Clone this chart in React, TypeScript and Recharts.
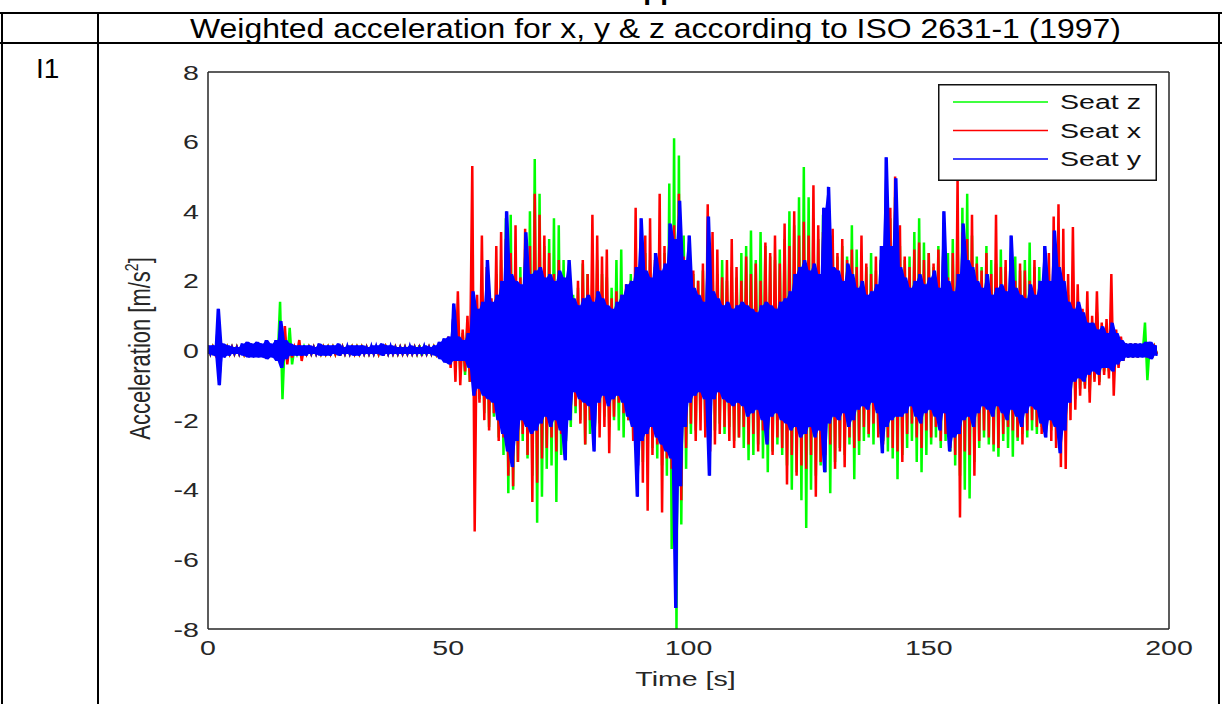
import React from 'react';
import { ComposedChart, Line, Area, XAxis, YAxis, Legend } from 'recharts';

// envelope of the weighted signals, one max/min pair per second (t = 0..197 s)
const BIN = 1;
const xTicks = [0, 50, 100, 150, 200];
const yTicks = [-8, -6, -4, -2, 0, 2, 4, 6, 8];
const legendOrder = ['Seat z', 'Seat x', 'Seat y'];

const seatZMax = [
  0.1, 0.1, 0.3, 0.1, 0.1, 0.1, 0.1, 0.1, 0.15, 0.1,
  0.15, 0.1, 0.2, 0.15, 0.25, 1.4, 0.4, 0.65, 0.1, 0.15,
  0.1, 0.1, 0.1, 0.1, 0.1, 0.1, 0.1, 0.15, 0.1, 0.1,
  0.1, 0.1, 0.1, 0.1, 0.1, 0.1, 0.15, 0.1, 0.1, 0.1,
  0.1, 0.1, 0.1, 0.1, 0.15, 0.1, 0.1, 0.1, 0.15, 0.25,
  0.3, 0.5, 0.9, 0.5, 0.8, 1.8, 1.1, 1.4, 1.6, 1.4,
  2.2, 2.6, 3.8, 3.9, 2.6, 2.4, 2.9, 4.0, 5.5, 4.5,
  3.0, 3.2, 3.8, 3.6, 2.6, 2.0, 1.6, 1.8, 2.5, 2.2,
  2.3, 2.6, 2.2, 2.1, 1.8, 2.6, 2.9, 1.7, 2.2, 2.7,
  2.6, 2.8, 2.6, 2.4, 3.0, 2.8, 4.8, 6.1, 5.6, 3.3,
  2.5, 2.2, 2.0, 2.3, 3.0, 2.5, 2.2, 2.6, 2.0, 2.4,
  2.1, 2.8, 3.0, 3.45, 2.6, 3.4, 3.0, 2.7, 2.6, 2.9,
  3.2, 4.0, 3.6, 4.4, 5.27, 4.4, 3.8, 3.2, 3.9, 3.0,
  3.3, 2.7, 3.0, 2.7, 3.6, 2.9, 2.6, 2.4, 2.8, 2.3,
  2.5, 3.1, 3.8, 4.4, 3.0, 2.6, 2.7, 3.4, 3.8, 3.1,
  2.8, 2.4, 3.0, 2.6, 2.8, 3.2, 3.5, 4.1, 4.5, 3.3,
  2.7, 2.4, 3.0, 2.6, 2.5, 2.9, 2.4, 2.6, 2.7, 2.3,
  2.6, 3.1, 2.4, 2.4, 2.0, 2.2, 2.4, 2.7, 2.4, 1.6,
  1.9, 1.3, 1.0, 1.2, 0.8, 1.1, 0.6, 0.6, 0.7, 0.4,
  0.3, 0.2, 0.2, 0.2, 0.15, 0.8, 0.2, 0.1,
];
const seatZMin = [
  -0.1, -0.1, -0.3, -0.1, -0.1, -0.1, -0.1, -0.1, -0.15, -0.1,
  -0.15, -0.1, -0.2, -0.15, -0.25, -1.4, -0.3, -0.4, -0.1, -0.15,
  -0.1, -0.1, -0.1, -0.1, -0.1, -0.1, -0.1, -0.15, -0.1, -0.1,
  -0.1, -0.1, -0.1, -0.1, -0.1, -0.1, -0.15, -0.1, -0.1, -0.1,
  -0.1, -0.1, -0.1, -0.1, -0.15, -0.1, -0.1, -0.1, -0.15, -0.25,
  -0.3, -0.4, -0.6, -0.7, -0.9, -1.6, -1.4, -1.8, -2.2, -1.9,
  -2.5, -3.0, -4.1, -4.0, -3.2, -2.6, -3.1, -3.6, -4.95, -4.2,
  -3.4, -3.3, -4.35, -3.0, -2.6, -2.2, -1.8, -2.0, -2.7, -2.4,
  -2.2, -2.1, -1.9, -2.2, -2.0, -2.3, -2.5, -2.0, -2.6, -3.0,
  -3.2, -3.0, -2.8, -3.1, -3.3, -3.6, -5.7, -8.0, -5.0, -3.4,
  -2.4, -2.3, -2.0, -2.2, -2.5, -2.3, -2.1, -2.4, -2.2, -2.6,
  -2.5, -2.8, -3.15, -3.0, -2.7, -3.1, -3.5, -2.9, -2.7, -3.0,
  -3.3, -4.0, -3.5, -4.3, -5.1, -4.0, -3.6, -3.3, -3.5, -4.1,
  -3.2, -2.8, -3.0, -2.7, -3.7, -3.0, -2.6, -2.5, -2.7, -2.4,
  -2.6, -2.9, -3.1, -3.7, -3.0, -2.8, -2.6, -3.2, -3.5, -3.0,
  -2.7, -2.5, -2.8, -2.6, -2.9, -3.3, -3.6, -4.0, -4.25, -3.2,
  -2.8, -2.5, -2.7, -2.9, -3.05, -2.6, -2.8, -3.05, -2.6, -2.4,
  -2.5, -2.3, -2.4, -2.2, -2.0, -2.3, -2.1, -2.4, -2.2, -1.5,
  -1.4, -1.1, -1.0, -1.2, -0.8, -0.9, -0.6, -0.6, -0.7, -0.4,
  -0.3, -0.2, -0.2, -0.2, -0.15, -0.85, -0.2, -0.1,
];

const seatXMax = [
  0.1, 0.1, 0.2, 0.1, 0.1, 0.1, 0.1, 0.1, 0.15, 0.1,
  0.15, 0.1, 0.2, 0.15, 0.2, 0.4, 0.7, 0.2, 0.1, 0.3,
  0.1, 0.1, 0.1, 0.1, 0.1, 0.1, 0.1, 0.15, 0.1, 0.1,
  0.1, 0.1, 0.1, 0.1, 0.1, 0.1, 0.15, 0.1, 0.1, 0.1,
  0.1, 0.1, 0.1, 0.1, 0.1, 0.1, 0.1, 0.1, 0.15, 0.3,
  0.4, 0.9, 1.7, 0.6, 1.0, 5.3, 1.6, 3.3, 2.4, 1.5,
  3.0, 3.4, 3.2, 2.8, 3.6, 2.1, 3.5, 3.0, 4.5, 3.9,
  3.3, 2.8, 2.2, 2.6, 1.9, 1.8, 1.4, 2.0, 2.6, 2.2,
  3.9, 3.3, 2.7, 2.9, 1.5, 1.7, 1.6, 1.9, 2.0, 4.1,
  2.8, 3.3, 3.8, 2.6, 4.5, 3.0, 2.8, 3.6, 4.5, 2.7,
  2.0, 2.3, 2.0, 2.5, 4.2, 3.4, 2.9, 2.1, 2.6, 3.2,
  2.4, 2.0, 2.7, 2.2, 2.5, 2.0, 3.1, 2.8, 3.3, 2.5,
  3.65, 3.0, 4.0, 3.3, 3.7, 3.3, 4.75, 3.6, 3.4, 3.1,
  3.5, 2.8, 3.2, 2.6, 2.9, 2.4, 3.3, 2.5, 2.2, 2.7,
  2.6, 3.0, 4.1, 5.0, 3.6, 2.7, 2.4, 2.9, 3.1, 2.6,
  2.8, 2.5, 2.9, 2.7, 2.1, 2.8, 5.0, 3.4, 3.2, 3.9,
  2.5, 2.3, 2.8, 2.2, 3.9, 2.4, 2.6, 2.3, 2.0, 2.5,
  2.3, 2.0, 2.6, 1.9, 2.2, 2.8, 3.85, 4.2, 3.5, 2.2,
  3.55, 1.9, 1.2, 1.7, 1.0, 1.7, 0.8, 0.9, 2.2, 0.6,
  0.4, 0.2, 0.2, 0.2, 0.15, 0.2, 0.2, 0.1,
];
const seatXMin = [
  -0.1, -0.1, -0.2, -0.1, -0.1, -0.1, -0.1, -0.1, -0.15, -0.1,
  -0.15, -0.1, -0.2, -0.15, -0.2, -0.3, -0.4, -0.2, -0.1, -0.3,
  -0.1, -0.1, -0.1, -0.1, -0.1, -0.1, -0.1, -0.15, -0.1, -0.1,
  -0.1, -0.1, -0.1, -0.1, -0.1, -0.1, -0.15, -0.1, -0.1, -0.1,
  -0.1, -0.1, -0.1, -0.1, -0.1, -0.1, -0.1, -0.1, -0.15, -0.3,
  -0.5, -0.9, -1.0, -0.6, -0.9, -5.2, -1.5, -2.0, -2.3, -1.8,
  -2.6, -2.5, -3.6, -3.9, -3.2, -2.4, -3.0, -4.35, -3.8, -3.1,
  -2.8, -2.5, -2.9, -2.4, -2.2, -1.8, -1.6, -2.1, -2.7, -2.0,
  -2.3, -2.5, -2.2, -2.95, -1.9, -1.5, -1.8, -2.0, -2.6, -3.3,
  -3.8, -4.6, -3.0, -2.7, -4.65, -3.1, -3.4, -3.6, -4.3, -2.8,
  -2.1, -2.6, -2.3, -2.5, -2.9, -2.7, -2.4, -2.2, -2.6, -2.8,
  -2.5, -2.2, -2.7, -2.4, -2.9, -2.3, -2.6, -3.0, -2.5, -2.8,
  -3.85, -3.0, -3.6, -3.3, -3.4, -3.0, -4.2, -3.2, -3.0, -2.7,
  -3.4, -2.9, -3.35, -2.5, -2.8, -2.6, -2.2, -2.4, -2.1, -2.5,
  -2.7, -2.5, -2.8, -2.9, -3.2, -2.4, -2.1, -2.5, -2.8, -2.3,
  -2.5, -2.2, -2.6, -2.4, -2.8, -3.0, -4.8, -2.9, -3.0, -3.6,
  -2.6, -2.3, -2.5, -2.7, -2.8, -2.4, -2.2, -2.3, -2.5, -2.7,
  -2.3, -2.0, -2.2, -2.4, -2.1, -2.6, -2.8, -3.35, -3.4, -2.0,
  -1.7, -1.3, -1.1, -1.5, -0.9, -1.0, -0.7, -0.8, -1.3, -0.5,
  -0.3, -0.2, -0.2, -0.2, -0.15, -0.2, -0.2, -0.1,
];

const seatYMax = [
  0.15, 0.15, 1.2, 0.2, 0.15, 0.1, 0.1, 0.2, 0.25, 0.2,
  0.25, 0.2, 0.3, 0.2, 0.3, 0.85, 0.3, 0.2, 0.15, 0.15,
  0.15, 0.15, 0.1, 0.2, 0.15, 0.15, 0.15, 0.2, 0.1, 0.15,
  0.15, 0.15, 0.15, 0.1, 0.15, 0.15, 0.2, 0.15, 0.15, 0.1,
  0.1, 0.1, 0.15, 0.1, 0.1, 0.15, 0.1, 0.15, 0.25, 0.35,
  0.4, 1.35, 0.4, 0.3, 0.5, 1.7, 1.2, 1.4, 2.6, 1.4,
  1.6, 2.0, 4.0, 2.2, 2.0, 1.9, 3.4, 2.2, 2.3, 2.4,
  2.1, 2.2, 2.0, 2.3, 2.1, 2.6, 1.5, 1.3, 1.5, 1.6,
  1.4, 1.7, 1.5, 1.3, 1.2, 1.4, 1.6, 1.9, 2.0, 2.4,
  3.8, 2.3, 2.1, 2.8, 2.3, 2.5, 3.65, 3.2, 4.3, 2.6,
  3.3, 1.8, 1.6, 1.4, 3.85, 1.7, 1.5, 1.3, 1.4, 1.2,
  1.3, 1.4, 1.3, 1.2, 1.1, 1.3, 1.4, 1.3, 1.2, 1.4,
  1.5, 1.7, 2.2, 2.4, 2.6, 2.3, 2.5, 2.2, 4.1, 4.7,
  2.4, 2.3, 2.0, 2.5, 2.2, 1.8, 2.0, 1.6, 1.7, 1.9,
  3.0, 5.55, 3.0, 4.95, 2.4, 2.1, 1.8, 2.0, 2.2, 1.9,
  2.1, 2.3, 1.8, 4.0, 2.0, 1.7, 2.2, 3.65, 2.6, 2.4,
  2.0, 1.8, 2.2, 1.6, 1.8, 1.9, 1.7, 3.3, 1.8, 1.6,
  1.5, 1.9, 1.6, 2.0, 3.0, 2.0, 3.45, 2.4, 2.0, 1.4,
  1.2, 1.4, 1.1, 0.8, 0.8, 0.6, 0.7, 0.5, 0.8, 0.5,
  0.3, 0.2, 0.2, 0.2, 0.2, 0.25, 0.25, 0.15,
];
const seatYMin = [
  -0.1, -0.15, -1.0, -0.2, -0.15, -0.1, -0.1, -0.15, -0.2, -0.2,
  -0.2, -0.2, -0.25, -0.2, -0.3, -0.5, -0.25, -0.15, -0.15, -0.15,
  -0.15, -0.1, -0.1, -0.15, -0.15, -0.15, -0.1, -0.15, -0.1, -0.1,
  -0.15, -0.15, -0.1, -0.1, -0.1, -0.1, -0.15, -0.1, -0.1, -0.1,
  -0.1, -0.1, -0.1, -0.1, -0.1, -0.1, -0.1, -0.15, -0.25, -0.35,
  -0.4, -0.3, -0.3, -0.3, -0.5, -1.3, -1.1, -1.3, -1.4, -1.5,
  -2.0, -2.4, -2.9, -3.35, -2.6, -2.0, -2.2, -2.4, -2.3, -2.1,
  -1.9, -2.2, -2.0, -2.3, -3.15, -2.0, -1.2, -1.4, -1.5, -1.6,
  -2.9, -1.5, -1.3, -1.6, -1.4, -1.3, -1.5, -1.9, -2.2, -4.2,
  -2.6, -2.4, -2.2, -2.5, -2.7, -2.9, -3.1, -7.4, -3.9, -2.2,
  -1.5, -1.3, -1.2, -1.4, -3.6, -1.4, -1.2, -1.4, -1.5, -1.6,
  -1.5, -1.6, -1.9, -1.8, -1.7, -2.0, -2.7, -1.9, -1.8, -2.0,
  -2.1, -2.3, -2.2, -2.5, -2.4, -2.2, -2.5, -2.3, -3.5, -2.1,
  -1.9, -2.0, -1.8, -2.2, -2.0, -1.7, -1.6, -1.7, -1.5, -1.8,
  -2.95, -2.2, -2.0, -1.9, -1.9, -1.8, -1.6, -1.9, -2.1, -1.8,
  -1.7, -1.9, -2.3, -1.8, -2.9, -2.5, -2.4, -2.0, -1.9, -2.2,
  -1.8, -1.6, -1.7, -1.9, -1.6, -1.8, -2.0, -1.7, -1.9, -2.2,
  -1.8, -1.6, -1.7, -2.1, -2.5, -2.0, -2.2, -2.95, -2.3, -1.5,
  -0.9, -0.8, -0.9, -0.7, -0.6, -0.7, -0.5, -0.5, -0.6, -0.4,
  -0.3, -0.2, -0.2, -0.2, -0.2, -0.2, -0.25, -0.15,
];

// max sample at the start of each bin, min sample half a bin later;
// yBand is the blue envelope that fills the dense core of Seat y
type Row = { t: number; z: number; x: number; y: number; yBand: [number, number] };
const rows: Row[] = [];
seatYMax.forEach((_, i) => {
  const t = i * BIN;
  const yBand: [number, number] = [seatYMin[i], seatYMax[i]];
  rows.push({ t, z: seatZMax[i], x: seatXMax[i], y: seatYMax[i], yBand });
  rows.push({ t: t + BIN / 2, z: seatZMin[i], x: seatXMin[i], y: seatYMin[i], yBand });
});

const FONT = '"Liberation Sans", Arial, sans-serif';
const INK = '#262626';
const STRETCH = 1.36; // the exported figure is stretched horizontally

function YTick({ x, y, payload }: any) {
  return (
    <text transform={`translate(${x},${y}) scale(${STRETCH},1)`} textAnchor="end" dy="0.36em"
      fontSize={21} fontFamily={FONT} fill={INK}>{payload.value}</text>
  );
}

function XTick({ x, y, payload }: any) {
  return (
    <text transform={`translate(${x},${y}) scale(${STRETCH},1)`} textAnchor="middle" dy="0.72em"
      fontSize={21} fontFamily={FONT} fill={INK}>{payload.value}</text>
  );
}

function XLabel({ viewBox }: any) {
  const cx = viewBox.x + viewBox.width / 2 - 3;
  return (
    <text transform={`translate(${cx},${viewBox.y + 57}) scale(${STRETCH},1)`} textAnchor="middle"
      fontSize={21} fontFamily={FONT} fill={INK}>Time [s]</text>
  );
}

function YLabel({ viewBox }: any) {
  const cx = viewBox.x - 57;
  const cy = viewBox.y + viewBox.height / 2 - 2;
  return (
    <text transform={`translate(${cx},${cy}) scale(1.3,1) rotate(-90)`} textAnchor="middle"
      fontSize={22} fontFamily={FONT} fill={INK}>
      Acceleration [m/s<tspan dy={-9} fontSize={14}>2</tspan><tspan dy={9}>]</tspan>
    </text>
  );
}

function LegendBox({ payload }: any) {
  const items = legendOrder
    .map((name) => (payload || []).find((p: any) => p.value === name))
    .filter(Boolean);
  return (
    <svg width={219} height={97} style={{ display: 'block' }}>
      <rect x={0.75} y={0.75} width={217.5} height={95.5} fill="#fff" stroke="#111" strokeWidth={1.5} />
      {items.map((p: any, i: number) => (
        <g key={p.value}>
          <line x1={15} x2={110} y1={18 + i * 28.5} y2={18 + i * 28.5} stroke={p.color} strokeWidth={1.5} />
          <text transform={`translate(122,${25 + i * 28.5}) scale(${STRETCH},1)`} fontSize={21}
            fontFamily={FONT} fill="#111">{p.value}</text>
        </g>
      ))}
    </svg>
  );
}

const frame = { stroke: INK, strokeWidth: 1.5 };

export default function App() {
  return (
    <div style={{ position: 'absolute', left: 0, top: 0, width: 1222, height: 704, background: '#fff', overflow: 'hidden' }}>
      <svg width={1222} height={704} style={{ position: 'absolute', left: 0, top: 0 }}>
        <text x={623} y={-1} fontSize={28} fontWeight="bold" fontFamily={FONT} fill="#000">Appendix</text>
        <line x1={0} x2={1222} y1={13} y2={13} stroke="#000" strokeWidth={2} />
        <line x1={0} x2={1222} y1={43} y2={43} stroke="#000" strokeWidth={2} />
        <line x1={2} x2={2} y1={12} y2={704} stroke="#000" strokeWidth={2} />
        <line x1={98} x2={98} y1={12} y2={704} stroke="#000" strokeWidth={2} />
        <line x1={1219} x2={1219} y1={12} y2={704} stroke="#000" strokeWidth={2} />
        <text x={190} y={38} fontSize={28} fontFamily={FONT} fill="#000" textLength={931}
          lengthAdjust="spacingAndGlyphs">Weighted acceleration for x, y &amp; z according to ISO 2631-1 (1997)</text>
        <text x={36} y={78} fontSize={28} fontFamily={FONT} fill="#000">I1</text>
      </svg>
      <div style={{ position: 'absolute', left: 0, top: 0 }}>
        <ComposedChart width={1222} height={704} data={rows} margin={{ top: 72, right: 53, bottom: 74, left: 207 }}>
          <XAxis xAxisId="b" dataKey="t" type="number" domain={[0, 200]} ticks={xTicks} allowDataOverflow
            height={1} tickLine={false} tickSize={0} tickMargin={11} tick={<XTick />} axisLine={frame}
            label={<XLabel />} />
          <XAxis xAxisId="bi" dataKey="t" type="number" domain={[0, 200]} ticks={xTicks} allowDataOverflow
            mirror tick={false} tickSize={9} tickLine={frame} axisLine={false} />
          <XAxis xAxisId="t" orientation="top" dataKey="t" type="number" domain={[0, 200]} ticks={xTicks}
            allowDataOverflow mirror tick={false} tickSize={9} tickLine={frame} axisLine={frame} />
          <YAxis yAxisId="l" type="number" domain={[-8, 8]} ticks={yTicks} allowDataOverflow width={1}
            tickLine={false} tickSize={0} tickMargin={9} tick={<YTick />} axisLine={frame} label={<YLabel />} />
          <YAxis yAxisId="li" type="number" domain={[-8, 8]} ticks={yTicks} allowDataOverflow mirror
            tick={false} tickSize={9} tickLine={frame} axisLine={false} />
          <YAxis yAxisId="r" orientation="right" type="number" domain={[-8, 8]} ticks={yTicks} allowDataOverflow
            mirror tick={false} tickSize={9} tickLine={frame} axisLine={frame} />
          <Line xAxisId="b" yAxisId="l" type="linear" dataKey="z" name="Seat z" stroke="#00ff00" strokeWidth={2.5}
            dot={false} activeDot={false} isAnimationActive={false} zIndex={401} />
          <Line xAxisId="b" yAxisId="l" type="linear" dataKey="x" name="Seat x" stroke="#ff0000" strokeWidth={2.5}
            dot={false} activeDot={false} isAnimationActive={false} zIndex={402} />
          <Area xAxisId="b" yAxisId="l" type="linear" dataKey="yBand" fill="#0000ff" fillOpacity={1}
            stroke="none" legendType="none" dot={false} activeDot={false} isAnimationActive={false} zIndex={403} />
          <Line xAxisId="b" yAxisId="l" type="linear" dataKey="y" name="Seat y" stroke="#0000ff" strokeWidth={2}
            dot={false} activeDot={false} isAnimationActive={false} zIndex={404} />
          <Legend content={<LegendBox />} layout="horizontal" verticalAlign="middle" align="center"
            wrapperStyle={{ left: 938, top: 84, width: 219, height: 97 }} />
        </ComposedChart>
      </div>
    </div>
  );
}
